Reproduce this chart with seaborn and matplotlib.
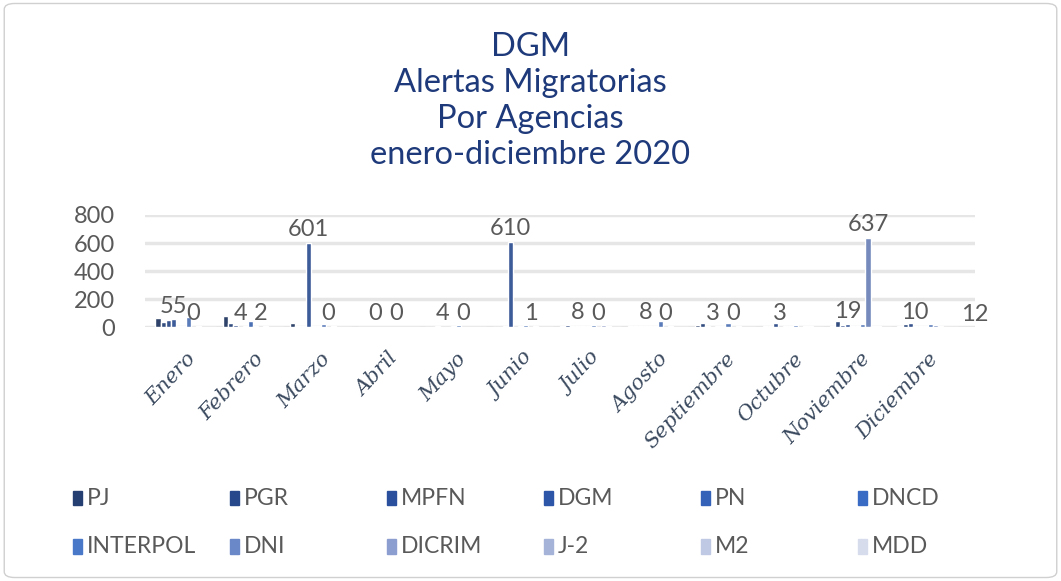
import matplotlib
matplotlib.use("Agg")
import matplotlib.pyplot as plt
import seaborn as sns
import pandas as pd
from matplotlib.patches import FancyBboxPatch

# data
meses = ["Enero", "Febrero", "Marzo", "Abril", "Mayo", "Junio", "Julio",
         "Agosto", "Septiembre", "Octubre", "Noviembre", "Diciembre"]
agencias = ["PJ", "PGR", "MPFN", "DGM", "PN", "DNCD",
            "INTERPOL", "DNI", "DICRIM", "J-2", "M2", "MDD"]

PJ = [65, 80, 30, 3, 4, 3, 8, 5, 12, 6, 10, 8]
PGR = [35, 30, 6, 3, 4, 3, 12, 10, 28, 8, 45, 22]
MPFN = [50, 12, 10, 4, 5, 5, 10, 8, 8, 28, 18, 28]
DGM = [55, 4, 601, 0, 4, 610, 8, 8, 3, 3, 19, 10]
PN = [6, 6, 5, 3, 4, 4, 8, 6, 5, 5, 8, 8]
DNCD = [10, 40, 8, 4, 6, 6, 10, 8, 6, 8, 10, 10]
INTERPOL = [70, 8, 25, 4, 14, 12, 12, 42, 28, 18, 22, 22]
DNI = [0, 2, 0, 0, 0, 1, 0, 0, 0, 3, 637, 12]
DICRIM = [6, 5, 5, 3, 4, 5, 12, 6, 5, 10, 8, 6]
J2 = [4, 4, 4, 2, 3, 4, 5, 4, 4, 5, 5, 4]
M2 = [3, 3, 3, 2, 2, 3, 4, 3, 3, 4, 4, 3]
MDD = [2, 2, 2, 1, 2, 2, 3, 2, 2, 3, 3, 2]

# data labels shown in the chart (DGM and DNI series)
etiquetas_DGM = ["55", "4", "601", "0", "4", "610", "8", "8", "3", "3", "19", "10"]
etiquetas_DNI = ["0", "2", "0", "0", "0", "1", "0", "0", "0", "", "637", "12"]

series = [PJ, PGR, MPFN, DGM, PN, DNCD, INTERPOL, DNI, DICRIM, J2, M2, MDD]

colores = ["#253f73", "#27488a", "#2a4f9c", "#2d56a8", "#3462b8", "#3a6bc4",
           "#4a78c9", "#6a87c8", "#8b9ecf", "#a6b3d9", "#c0c9e3", "#d7dcec"]

rows = []
for nombre, vals in zip(agencias, series):
    for m, v in zip(meses, vals):
        rows.append({"Mes": m, "Agencia": nombre, "Valor": v})
df = pd.DataFrame(rows)

sns.set_style("white")
plt.rcParams["font.family"] = ["Lato", "DejaVu Sans"]

fig = plt.figure(figsize=(10.61, 5.81), dpi=100)
ax = fig.add_axes([0.137, 0.437, 0.782, 0.193])

sns.barplot(data=df, x="Mes", y="Valor", hue="Agencia", palette=colores,
            width=0.9, ax=ax, legend=False, errorbar=None)

ax.set_ylim(0, 800)
ax.set_yticks([0, 200, 400, 600, 800])
ax.grid(axis="y", color="#e6e6e6", linewidth=2.5)
ax.set_axisbelow(True)
for s in ax.spines.values():
    s.set_visible(False)
ax.set_xlabel("")
ax.set_ylabel("")
ax.tick_params(axis="y", labelsize=17, colors="#595959", length=0, pad=22)
ax.tick_params(axis="x", length=0, pad=16)
ax.set_xlim(-0.6, 11.7)
for lbl in ax.get_xticklabels():
    lbl.set_rotation(47)
    lbl.set_ha("right")
    lbl.set_rotation_mode("anchor")
    lbl.set_family(["DejaVu Serif"])
    lbl.set_style("italic")
    lbl.set_fontsize(15)
    lbl.set_color("#3b4a5f")

# data labels for DGM and DNI
lab1 = ax.bar_label(ax.containers[3], labels=etiquetas_DGM, fontsize=17,
                    color="#595959", padding=2)
lab2 = ax.bar_label(ax.containers[7], labels=etiquetas_DNI, fontsize=17,
                    color="#595959", padding=2)
lab2[-1].xyann = (28, 0)

fig.text(0.5, 0.826, "DGM\nAlertas Migratorias\nPor Agencias\nenero-diciembre 2020",
         ha="center", va="center", fontsize=23.5, color="#1f3a7a",
         linespacing=1.24)

# legend
x0, dx = 0.069, 0.148
for i, (nombre, c) in enumerate(zip(agencias, colores)):
    fila, col = divmod(i, 6)
    y = 0.142 - fila * 0.083
    x = x0 + col * dx
    fig.patches.append(plt.Rectangle((x, y - 0.012), 0.008, 0.025,
                                     transform=fig.transFigure, color=c))
    fig.text(x + 0.013, y, nombre, fontsize=16.5, color="#595959",
             va="center")

fig.patches.append(FancyBboxPatch((0.004, 0.006), 0.992, 0.988,
                                  boxstyle="round,pad=0,rounding_size=0.01",
                                  transform=fig.transFigure, fill=False,
                                  edgecolor="#d0d0d0", linewidth=1))

fig.savefig("out.png", dpi=100)
